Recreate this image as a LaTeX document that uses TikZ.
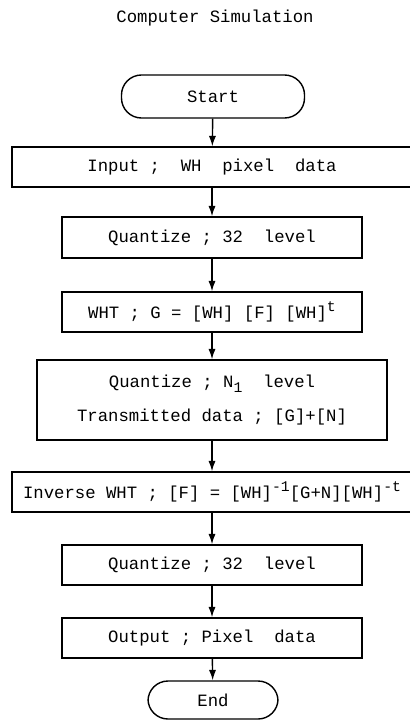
\documentclass[tikz,border=0pt]{standalone}
\usepackage{fontspec}
\setmonofont{Liberation Mono}
\usetikzlibrary{arrows.meta,positioning}
\newcommand\upidx[1]{\raisebox{0.75ex}{\fontsize{10.5}{10.5}\selectfont#1}}
\newcommand\lowidx[1]{\raisebox{-0.55ex}{\fontsize{10.5}{10.5}\selectfont#1}}

\begin{document}
\begin{tikzpicture}[x=0.025cm,y=-0.025cm,
    txt/.style={font=\ttfamily\fontsize{12.3}{14}\selectfont},
    box/.style={txt,draw,line width=0.035cm,inner sep=0pt,minimum height=1cm},
    term/.style={box,rounded corners=0.5cm},
    flow/.style={line width=0.035cm,-{Latex[length=0.26cm,width=0.18cm]}}]
                        \useasboundingbox (0,0) rectangle (409,721);

                        % Marking title
                        \node[txt] (title) at (215,18) {Computer Simulation};%

                        % Drawing terminal Start
                        \node[term,minimum width=4.575cm,minimum height=1.075cm] (start) at (213,96.5) {Start};%

                        % Drawing box Input
                        \node[box,minimum width=10cm] (input) at (212,167) {Input ;~ WH~ pixel~ data};%

                        % Drawing box Quantize 32
                        \node[box,minimum width=7.5cm,minimum height=1.025cm] (quant) at (212,237.5) {Quantize ; 32~ level};%

                        % Drawing box WHT
                        \node[box,minimum width=7.5cm] (wht) at (212,312) {WHT ; G = [WH] [F] [WH]\upidx{t}};%

                        % Drawing box Quantize N1
                        \node[box,minimum width=8.75cm,minimum height=2cm,align=center] (quantn) at (212,400)
                            {Quantize ; N\lowidx{1}~ level\\[10pt]Transmitted data ; [G]+[N]};%

                        % Drawing box Inverse WHT
                        \node[box,minimum width=10cm] (invwht) at (212,492)
                            {Inverse WHT ; [F] = [WH]\upidx{-1}[G+N][WH]\upidx{-t}};%

                        % Drawing box Quantize 32 again
                        \node[box,minimum width=7.5cm] (requant) at (212,565) {Quantize ; 32~ level};%

                        % Drawing box Output
                        \node[box,minimum width=7.5cm] (output) at (212,638) {Output ; Pixel~ data};%

                        % Drawing terminal End
                        \node[term,minimum width=3.25cm,minimum height=0.95cm] (end) at (213,700) {End};%

                        % Drawing arrows
                        \draw[flow] (start) -- (input);%
                        \draw[flow] (input) -- (quant);%
                        \draw[flow] (quant) -- (wht);%
                        \draw[flow] (wht) -- (quantn);%
                        \draw[flow] (quantn) -- (invwht);%
                        \draw[flow] (invwht) -- (requant);%
                        \draw[flow] (requant) -- (output);%
                        \draw[flow] (output) -- (end);%
                    \end{tikzpicture}
\end{document}
